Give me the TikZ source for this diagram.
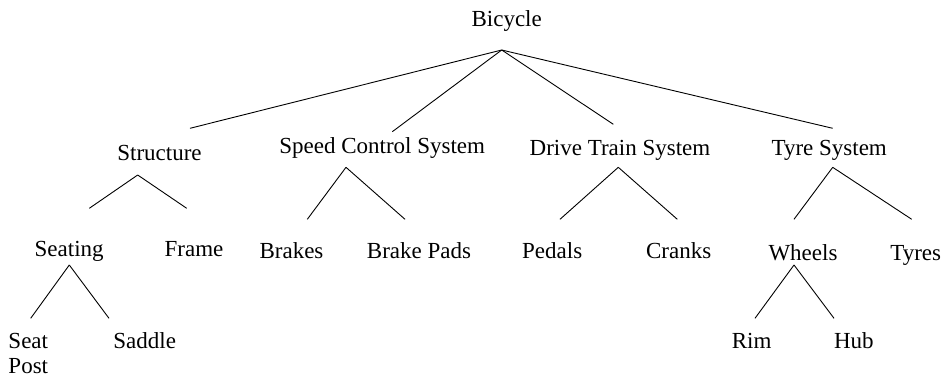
\documentclass[tikz,border=0pt]{standalone}
\usepackage{fontspec}
\setmainfont{Liberation Serif}
\begin{document}
\begin{tikzpicture}[x=1pt,y=-1pt,
  lbl/.style={font=\fontsize{23}{25}\selectfont, inner sep=0pt, anchor=base},
  branch/.style={line width=0.9pt, black}]
\useasboundingbox (0,0) rectangle (945,375);

% labels, placed by baseline
\node[lbl] (bicycle)   at (506.7,26.7) {Bicycle};
\node[lbl] (structure) at (159.5,160)  {Structure};
\node[lbl] (speed)     at (382.2,153.3) {Speed Control System};
\node[lbl] (drive)     at (620,155)    {Drive Train System};
\node[lbl] (tyresys)   at (829.2,155)  {Tyre System};
\node[lbl] (seating)   at (69.2,256.7) {Seating};
\node[lbl] (frame)     at (194,256.7)  {Frame};
\node[lbl] (brakes)    at (291.5,258.5) {Brakes};
\node[lbl] (pads)      at (419,258.5)  {Brake Pads};
\node[lbl] (pedals)    at (552.2,258.5) {Pedals};
\node[lbl] (cranks)    at (678.7,258.5) {Cranks};
\node[lbl] (wheels)    at (803,260)    {Wheels};
\node[lbl] (tyres)     at (915.7,260)  {Tyres};
% two-line label: the base anchor sits on the last line
\node[lbl, anchor=base west, align=left] (seatpost) at (8.3,373.3) {Seat\\Post};
\node[lbl] (saddle)    at (144.7,348.3) {Saddle};
\node[lbl] (rim)       at (751.7,348.3) {Rim};
\node[lbl] (hub)       at (853.8,348.3) {Hub};

% branch points below each parent and line ends above each child
\coordinate (bicycle-fork)   at (501.7,50);
\coordinate (structure-in)   at (190,128.3);
\coordinate (speed-in)       at (392.3,131.7);
\coordinate (drive-in)       at (613.3,124.3);
\coordinate (tyresys-in)     at (832.7,128.3);
\coordinate (structure-fork) at (137.7,175);
\coordinate (seating-in)     at (89.3,208.3);
\coordinate (frame-in)       at (186.7,208.3);
\coordinate (speed-fork)     at (346,167.3);
\coordinate (brakes-in)      at (307.3,219.3);
\coordinate (pads-in)        at (405,219.3);
\coordinate (drive-fork)     at (618.3,167.3);
\coordinate (pedals-in)      at (560,219.3);
\coordinate (cranks-in)      at (677.3,219.3);
\coordinate (tyresys-fork)   at (832.7,167.3);
\coordinate (wheels-in)      at (794,219.3);
\coordinate (tyres-in)       at (911.7,219.3);
\coordinate (seating-fork)   at (69.3,265);
\coordinate (seatpost-in)    at (30.7,318.3);
\coordinate (saddle-in)      at (109,318.3);
\coordinate (wheels-fork)    at (794,265);
\coordinate (rim-in)         at (755,318.3);
\coordinate (hub-in)         at (834,318.3);

% tree branches
\foreach \p/\c in {bicycle/structure, bicycle/speed, bicycle/drive, bicycle/tyresys,
                   structure/seating, structure/frame,
                   speed/brakes, speed/pads,
                   drive/pedals, drive/cranks,
                   tyresys/wheels, tyresys/tyres,
                   seating/seatpost, seating/saddle,
                   wheels/rim, wheels/hub}
  \draw[branch] (\p-fork) -- (\c-in);
\end{tikzpicture}
\end{document}
